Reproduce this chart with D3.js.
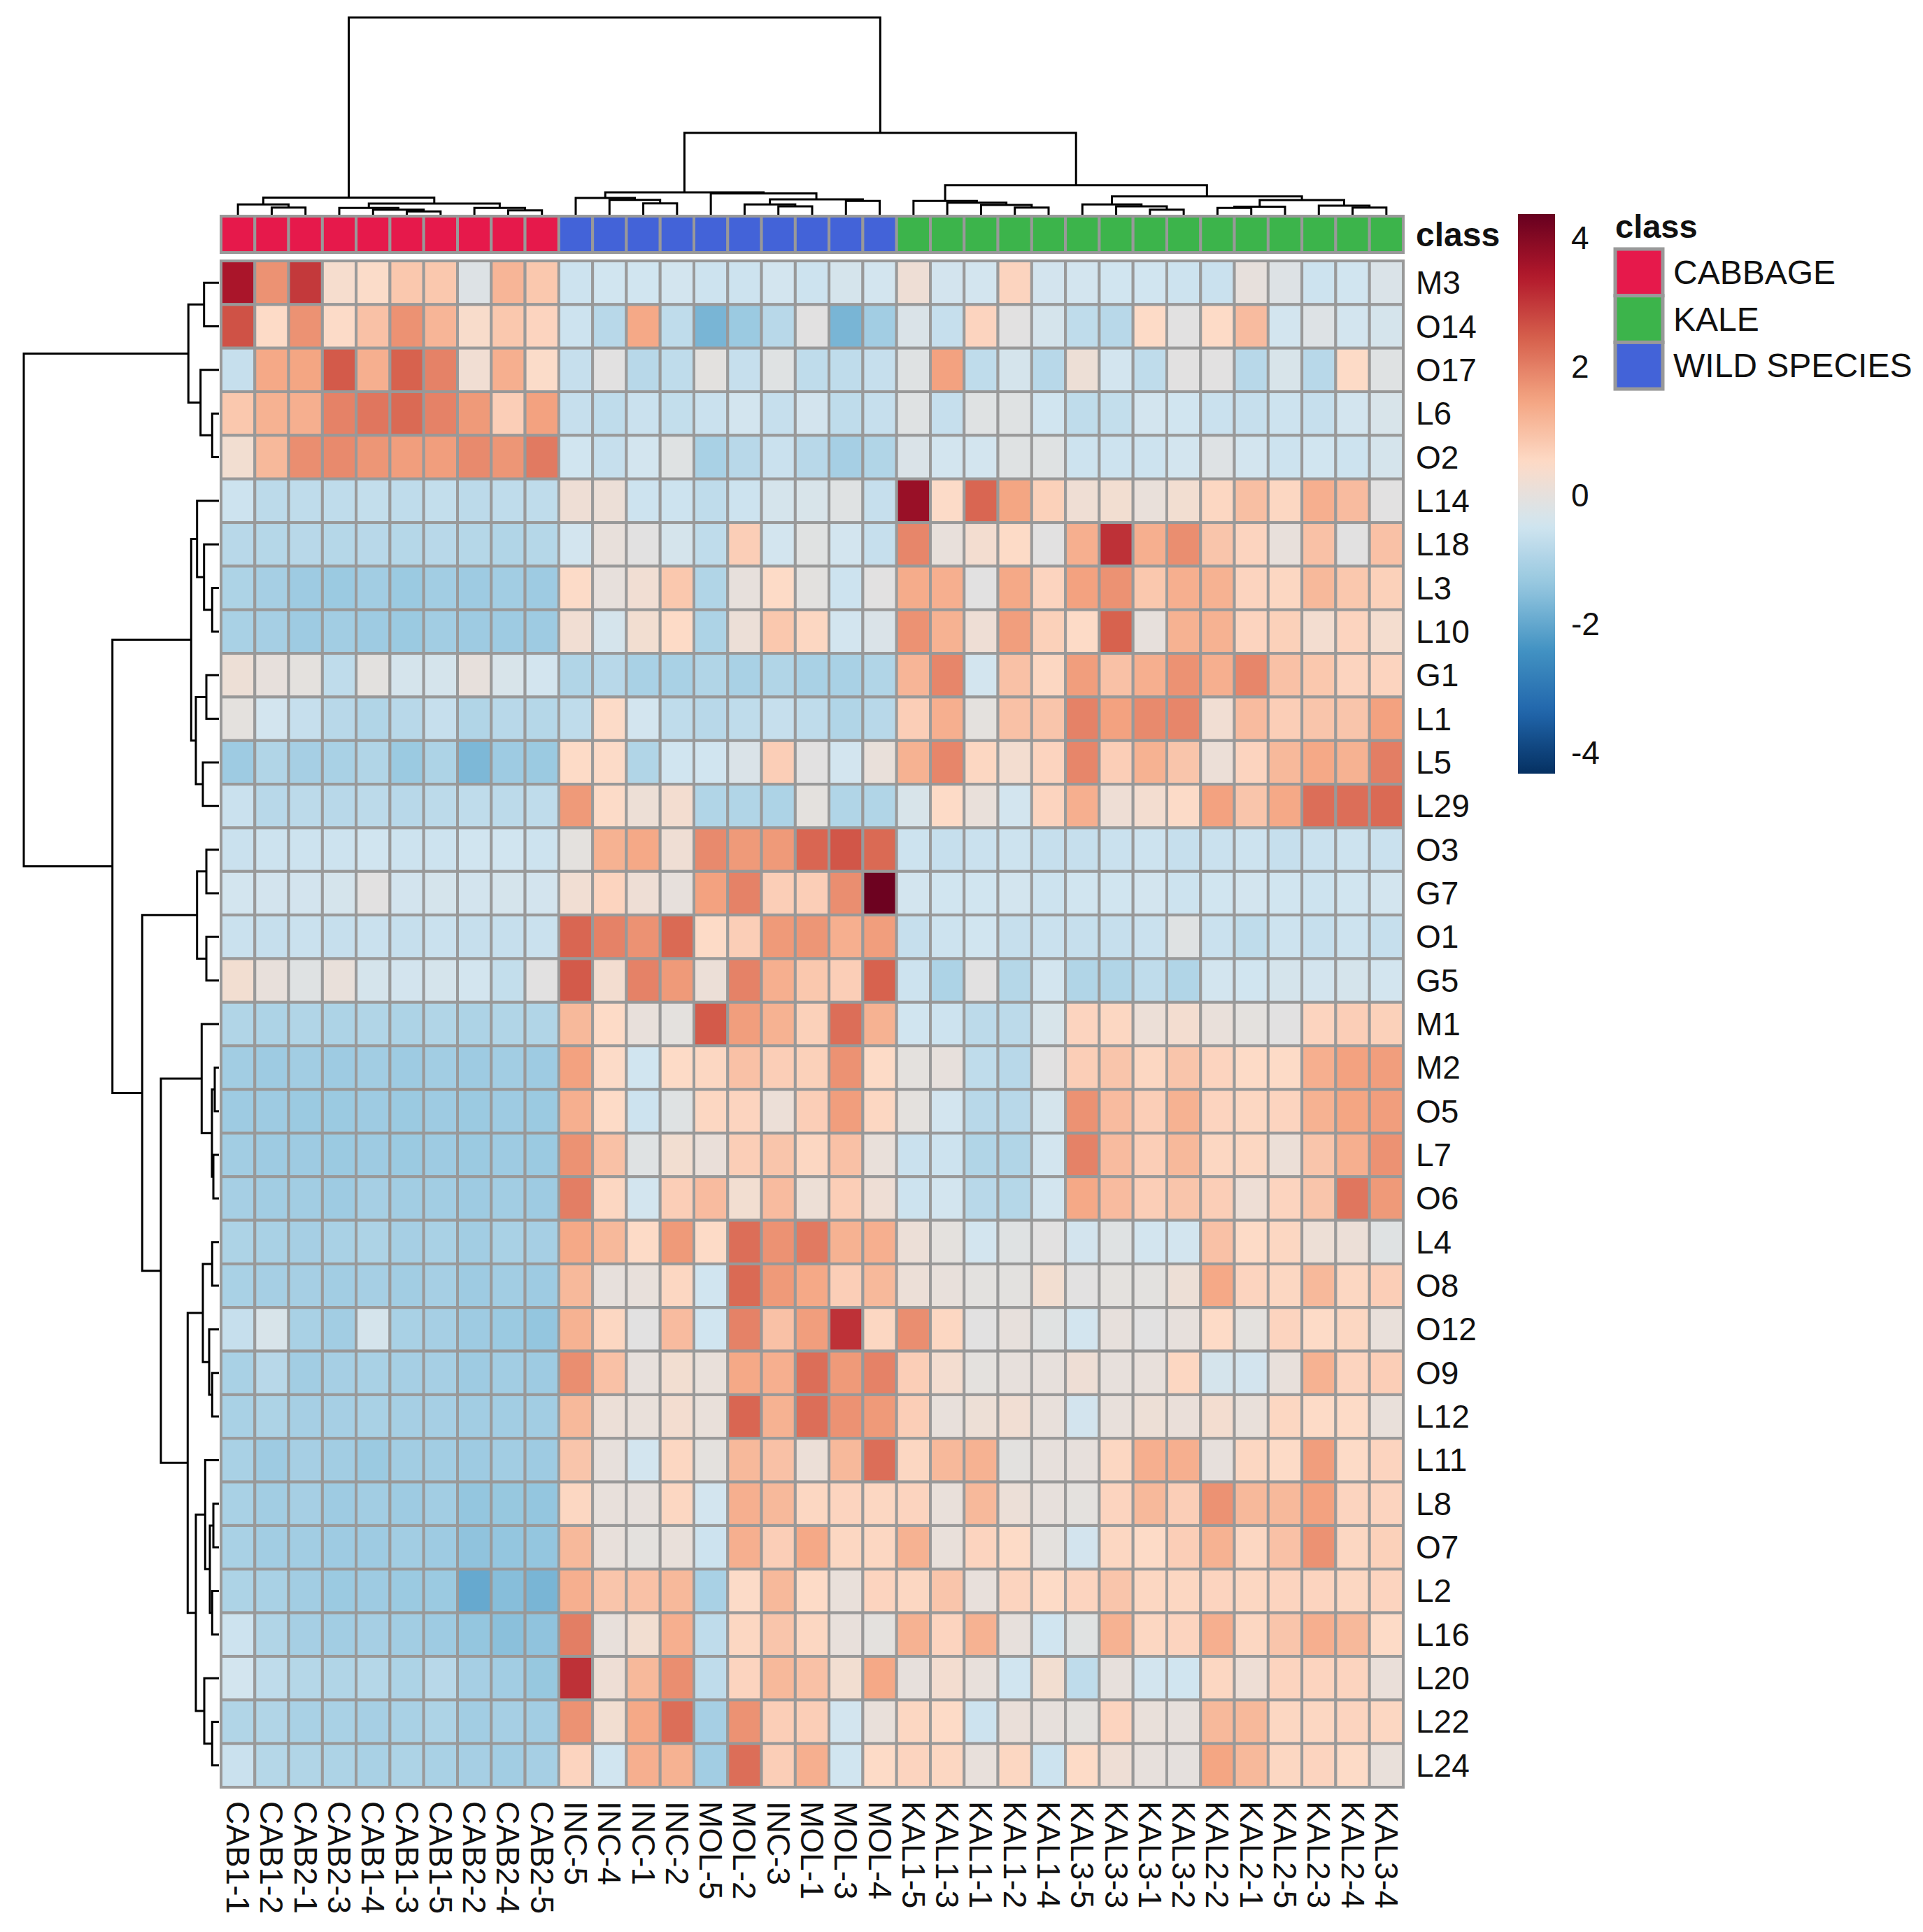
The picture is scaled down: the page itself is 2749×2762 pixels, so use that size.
<!DOCTYPE html>
<html lang="en">
<head>
<meta charset="utf-8">
<title>Heatmap - class</title>
<script src="https://cdnjs.cloudflare.com/ajax/libs/d3/7.8.5/d3.min.js"></script>
<style>
  html, body { margin: 0; padding: 0; background: #fff; }
  svg text { font-family: "Liberation Sans", Arial, sans-serif; fill: #111; }
</style>
</head>
<body>
<div id="chart"></div>
<script>
////////////////////////////////////////////////////////////////////////////////
// Data
////////////////////////////////////////////////////////////////////////////////

const rowNames = ["M3","O14","O17","L6","O2","L14","L18","L3","L10","G1","L1","L5","L29",
  "O3","G7","O1","G5","M1","M2","O5","L7","O6","L4","O8","O12","O9","L12","L11","L8",
  "O7","L2","L16","L20","L22","L24"];

const colNames = ["CAB1-1","CAB1-2","CAB2-1","CAB2-3","CAB1-4","CAB1-3","CAB1-5","CAB2-2","CAB2-4","CAB2-5",
  "INC-5","INC-4","INC-1","INC-2","MOL-5","MOL-2","INC-3","MOL-1","MOL-3","MOL-4",
  "KAL1-5","KAL1-3","KAL1-1","KAL1-2","KAL1-4","KAL3-5","KAL3-3","KAL3-1","KAL3-2",
  "KAL2-2","KAL2-1","KAL2-5","KAL2-3","KAL2-4","KAL3-4"];

// class of each column: 0 cabbage, 1 kale, 2 wild species
const colClass = [0,0,0,0,0,0,0,0,0,0, 2,2,2,2,2,2,2,2,2,2, 1,1,1,1,1,1,1,1,1,1,1,1,1,1,1];
const classNames = ["CABBAGE","KALE","WILD SPECIES"];
const classColors = ["#e6194b","#3cb44b","#4363d8"];

// scaled values, one array per row (same order as rowNames / colNames)
const values = [
  [3.51,1.74,2.96,0.34,0.45,0.85,0.85,-0.21,1.18,0.85, -0.52,-0.46,-0.46,-0.43,-0.52,-0.52,-0.43,-0.52,-0.38,-0.43, 0.17,-0.41,-0.43,0.62,-0.41,-0.43,-0.46,-0.46,-0.52,-0.57,0.01,-0.21,-0.52,-0.46,-0.27],
  [2.63,0.51,1.74,0.48,0.96,1.74,1.18,0.40,0.85,0.62, -0.52,-0.85,1.40,-0.74,-1.74,-1.29,-0.85,-0.10,-1.74,-1.18, -0.27,-0.63,0.62,-0.10,-0.38,-0.74,-0.85,0.51,-0.10,0.51,1.07,-0.43,-0.21,-0.43,-0.38],
  [-0.63,1.40,1.46,2.52,1.29,2.41,1.96,0.23,1.29,0.45, -0.63,-0.10,-0.85,-0.74,-0.07,-0.63,-0.16,-0.74,-0.74,-0.63, -0.16,1.51,-0.74,-0.38,-0.85,0.15,-0.43,-0.74,-0.10,-0.10,-0.85,-0.32,-0.85,0.51,-0.16],
  [0.85,1.24,1.29,1.96,2.13,2.30,1.96,1.63,0.73,1.51, -0.63,-0.74,-0.57,-0.68,-0.57,-0.43,-0.63,-0.41,-0.74,-0.63, -0.16,-0.63,-0.16,-0.16,-0.46,-0.74,-0.68,-0.43,-0.46,-0.57,-0.63,-0.52,-0.63,-0.43,-0.32],
  [0.26,1.12,1.79,1.85,1.68,1.57,1.57,1.85,1.68,2.07, -0.46,-0.63,-0.43,-0.16,-1.07,-0.85,-0.57,-0.85,-1.13,-0.96, -0.27,-0.43,-0.43,-0.16,-0.16,-0.52,-0.52,-0.52,-0.43,-0.18,-0.43,-0.52,-0.46,-0.52,-0.38],
  [-0.52,-0.79,-0.74,-0.74,-0.68,-0.74,-0.68,-0.79,-0.74,-0.74, 0.17,0.12,-0.52,-0.52,-0.74,-0.52,-0.38,-0.32,-0.16,-0.63, 3.73,0.48,2.35,1.46,0.68,0.20,0.26,0.06,0.26,0.57,1.01,0.57,1.29,1.07,-0.10],
  [-0.85,-0.90,-0.85,-0.90,-0.85,-0.90,-0.85,-0.90,-0.96,-0.90, -0.43,0.04,-0.10,-0.38,-0.74,0.73,-0.43,-0.13,-0.43,-0.63, 1.90,0.04,0.28,0.51,-0.10,1.29,3.07,1.29,1.79,0.90,0.62,0.04,0.96,-0.10,0.96],
  [-1.02,-1.13,-1.24,-1.29,-1.18,-1.29,-1.18,-1.24,-1.18,-1.24, 0.48,0.01,0.23,0.85,-0.96,0.01,0.51,-0.07,-0.52,-0.10, 1.35,1.29,-0.10,1.40,0.62,1.51,1.74,0.85,1.29,1.24,0.62,0.57,1.12,0.85,0.68],
  [-1.07,-1.13,-1.24,-1.18,-1.24,-1.29,-1.18,-1.24,-1.24,-1.24, 0.23,-0.38,0.26,0.51,-1.02,0.12,0.85,0.57,-0.43,-0.27, 1.74,1.24,0.17,1.57,0.68,0.51,2.41,0.01,1.24,1.24,0.62,0.68,0.28,0.62,0.31],
  [0.15,0.01,-0.05,-0.74,-0.07,-0.38,-0.38,0.01,-0.32,-0.43, -0.96,-0.85,-1.07,-1.07,-0.96,-1.07,-0.96,-1.07,-1.07,-0.96, 1.18,1.90,-0.43,0.96,0.57,1.57,0.96,1.29,1.74,1.29,1.90,0.96,0.85,0.62,0.62],
  [-0.05,-0.43,-0.63,-0.85,-0.96,-0.85,-0.63,-0.96,-0.85,-0.90, -0.74,0.48,-0.43,-0.74,-0.85,-0.74,-0.63,-0.74,-0.96,-0.85, 0.73,1.29,-0.05,0.96,0.90,1.96,1.51,1.85,1.90,0.23,1.07,0.73,0.90,0.90,1.51],
  [-1.24,-0.96,-1.13,-1.07,-0.96,-1.29,-1.02,-1.69,-1.24,-1.29, 0.51,0.48,-0.96,-0.46,-0.46,-0.27,0.73,-0.10,-0.43,0.06, 1.24,1.90,0.57,0.28,0.62,1.90,0.73,1.24,0.90,0.12,0.62,1.12,1.40,1.24,2.02],
  [-0.57,-0.85,-0.79,-0.85,-0.79,-0.85,-0.79,-0.74,-0.79,-0.74, 1.63,0.48,0.15,0.28,-0.96,-0.96,-1.02,-0.05,-0.96,-0.96, -0.32,0.51,0.06,-0.43,0.62,1.29,0.17,0.28,0.48,1.51,0.90,1.40,2.24,2.24,2.30],
  [-0.57,-0.52,-0.52,-0.52,-0.46,-0.52,-0.52,-0.46,-0.46,-0.52, -0.05,1.24,1.40,0.20,1.85,1.63,1.63,2.35,2.57,2.30, -0.52,-0.63,-0.57,-0.52,-0.63,-0.63,-0.57,-0.52,-0.63,-0.57,-0.52,-0.63,-0.57,-0.52,-0.57],
  [-0.43,-0.41,-0.41,-0.38,-0.10,-0.41,-0.38,-0.41,-0.38,-0.41, 0.23,0.62,0.17,0.01,1.51,1.96,0.73,0.73,1.79,4.29, -0.43,-0.46,-0.46,-0.43,-0.52,-0.46,-0.46,-0.43,-0.52,-0.46,-0.43,-0.46,-0.52,-0.46,-0.43],
  [-0.57,-0.63,-0.57,-0.63,-0.57,-0.63,-0.57,-0.63,-0.63,-0.57, 2.35,1.96,1.74,2.30,0.51,0.73,1.63,1.68,1.29,1.57, -0.63,-0.52,-0.46,-0.63,-0.57,-0.63,-0.63,-0.57,-0.16,-0.57,-0.74,-0.52,-0.63,-0.52,-0.63],
  [0.26,0.04,-0.16,0.06,-0.38,-0.41,-0.38,-0.43,-0.68,-0.10, 2.52,0.28,1.96,1.63,0.12,1.96,1.29,0.85,0.73,2.41, -0.52,-1.02,-0.10,-0.90,-0.43,-0.96,-0.96,-0.74,-0.96,-0.43,-0.46,-0.38,-0.41,-0.38,-0.43],
  [-0.96,-1.02,-0.96,-1.02,-0.96,-1.02,-0.96,-1.02,-0.96,-0.96, 1.12,0.51,0.04,-0.05,2.52,1.57,1.24,0.68,2.24,1.24, -0.46,-0.52,-0.79,-0.79,-0.32,0.62,0.57,0.12,0.28,0.06,-0.05,-0.10,0.62,0.73,0.68],
  [-1.18,-1.24,-1.18,-1.24,-1.18,-1.24,-1.18,-1.24,-1.18,-1.24, 1.51,0.48,-0.46,0.51,0.57,0.96,0.73,0.68,1.74,0.51, -0.05,0.01,-0.74,-0.85,-0.10,0.73,0.90,0.57,0.90,0.62,0.51,0.51,1.29,1.51,1.57],
  [-1.24,-1.24,-1.29,-1.29,-1.24,-1.29,-1.24,-1.29,-1.24,-1.29, 1.29,0.51,-0.52,-0.16,0.57,0.62,0.12,0.73,1.57,0.57, -0.05,-0.43,-0.85,-0.85,-0.38,1.74,1.07,0.73,1.24,0.62,0.57,0.62,1.24,1.46,1.57],
  [-1.18,-1.24,-1.24,-1.29,-1.24,-1.29,-1.24,-1.29,-1.24,-1.29, 1.74,0.96,-0.16,0.26,0.09,0.73,0.90,0.57,0.96,0.06, -0.57,-0.52,-0.96,-0.96,-0.43,1.96,1.07,0.73,1.12,0.57,0.57,0.12,0.90,1.29,1.74],
  [-1.13,-1.18,-1.18,-1.24,-1.13,-1.18,-1.18,-1.24,-1.18,-1.24, 2.02,0.57,-0.43,0.73,1.07,0.26,1.07,0.15,0.73,0.17, -0.52,-0.43,-0.85,-0.90,-0.43,1.40,1.07,0.73,0.90,0.73,0.17,0.62,0.90,2.13,1.63],
  [-1.02,-1.07,-1.13,-1.07,-1.02,-1.13,-1.07,-1.18,-1.07,-1.13, 1.40,1.12,0.51,1.63,0.51,2.24,1.74,2.07,1.24,1.29, 0.12,-0.05,-0.43,-0.16,-0.10,-0.41,-0.16,-0.43,-0.43,0.96,0.51,0.57,0.15,0.12,-0.16],
  [-1.07,-1.13,-1.13,-1.18,-1.13,-1.18,-1.13,-1.24,-1.18,-1.24, 1.12,0.01,0.04,0.57,-0.46,2.30,1.63,1.40,0.73,1.12, 0.12,0.04,-0.07,-0.07,0.26,-0.10,-0.05,-0.07,0.15,1.40,0.62,0.57,1.12,0.57,0.73],
  [-0.63,-0.32,-1.07,-1.18,-0.38,-1.07,-1.13,-1.24,-1.29,-1.40, 1.24,0.57,-0.10,1.07,-0.46,1.96,0.96,1.57,3.07,0.57, 1.79,0.57,-0.10,0.01,-0.13,-0.43,0.01,-0.10,0.01,0.51,-0.05,0.62,0.51,0.57,0.06],
  [-1.07,-0.85,-1.18,-1.13,-1.07,-1.13,-1.13,-1.24,-1.18,-1.24, 1.79,0.96,0.01,0.26,0.06,1.40,1.29,2.24,1.63,1.96, 0.73,0.28,-0.05,0.01,0.01,0.17,0.01,0.04,0.57,-0.38,-0.41,0.04,1.24,0.62,0.73],
  [-1.07,-1.02,-1.13,-1.13,-1.07,-1.13,-1.13,-1.18,-1.18,-1.18, 1.12,0.12,0.06,0.28,0.06,2.35,1.24,2.24,1.74,1.63, 0.73,0.04,0.15,0.23,0.04,-0.41,0.04,0.15,0.09,0.28,0.06,0.57,0.51,0.51,0.06],
  [-1.07,-1.24,-1.13,-1.18,-1.29,-1.18,-1.18,-1.24,-1.18,-1.24, 0.90,0.01,-0.43,0.57,-0.05,1.12,0.96,0.12,1.12,2.24, 0.57,1.12,1.24,-0.07,0.01,0.01,0.57,1.29,1.29,0.01,0.57,0.51,1.57,0.51,0.62],
  [-1.07,-1.18,-1.13,-1.24,-1.18,-1.24,-1.18,-1.40,-1.35,-1.40, 0.57,0.04,0.01,0.57,-0.43,1.29,1.12,0.57,0.62,0.57, 0.62,0.06,1.12,0.12,0.01,-0.05,0.62,1.12,0.73,1.74,1.12,1.12,1.51,0.62,0.62],
  [-1.07,-1.18,-1.18,-1.24,-1.24,-1.18,-1.24,-1.46,-1.40,-1.40, 1.12,0.04,-0.05,0.06,-0.52,1.29,0.73,1.40,0.57,0.57, 1.24,0.06,0.62,0.51,-0.05,-0.41,0.57,0.51,0.73,1.24,0.57,0.96,1.74,0.57,0.68],
  [-1.02,-1.07,-1.18,-1.29,-1.24,-1.29,-1.29,-1.97,-1.57,-1.74, 1.29,0.90,0.96,1.12,-1.07,0.48,1.12,0.51,0.06,0.62, 0.57,0.90,0.04,0.62,0.51,0.62,0.90,0.57,0.57,0.62,0.57,0.62,0.62,0.57,0.62],
  [-0.52,-0.96,-1.13,-1.18,-1.13,-1.18,-1.24,-1.40,-1.52,-1.46, 2.02,0.04,0.26,1.29,-0.74,0.57,0.90,0.57,0.04,-0.05, 1.24,0.62,1.24,0.01,-0.46,-0.13,1.24,0.57,0.62,1.29,0.57,0.90,1.29,1.12,0.51],
  [-0.43,-0.74,-0.90,-0.96,-0.90,-1.02,-0.85,-1.13,-1.18,-1.35, 3.07,0.17,1.12,1.79,-0.74,0.62,1.12,0.96,0.26,1.40, 0.01,0.28,0.04,-0.46,0.26,-0.74,0.01,-0.43,-0.46,0.57,0.17,0.62,0.62,0.62,0.09],
  [-0.96,-0.96,-1.07,-1.07,-1.13,-1.07,-1.02,-1.18,-1.13,-1.18, 1.74,0.26,1.40,2.24,-1.13,1.74,0.73,0.73,-0.43,0.06, 0.57,0.51,-0.52,0.09,0.01,-0.05,0.62,0.06,0.01,1.12,1.12,0.57,0.57,0.62,0.57],
  [-0.57,-0.90,-0.96,-1.02,-1.07,-1.02,-1.07,-1.13,-1.18,-1.13, 0.62,-0.46,1.29,1.24,-1.18,2.24,0.73,1.29,-0.46,0.51, 0.62,0.57,0.04,0.57,-0.52,0.51,0.17,0.01,-0.02,1.46,1.12,0.57,0.62,0.51,0.06]
];

// dendrograms: [height, left, right], a plain number is a leaf index
const colTree = [283,
  [24.7, [14.7, 0, [10.3, 1, 2]],
         [16, [9.7, 3, [7.3, 4, [4.7, 5, 6]]], [9.7, 7, [6.3, 8, 9]]]],
  [117.3,
    [32, [24, 10, [21.3, 11, [16.3, 12, 13]]],
         [30.7, 14, [22, [14.7, 15, [12, 16, 17]], [19.7, 18, 19]]]],
    [42.3, [19.7, 20, [17.3, 21, [14, 22, [10.3, 23, 24]]]],
           [26.3, [14.7, 25, [12, 26, [7.3, 27, 28]]],
                  [21, [11.5, [9.7, 29, 30], 31], [13, 32, [10.3, 33, 34]]]]]]];

const rowTree = [279,
  [43.7, [21.3, 0, 1], [26.3, 2, [9.7, 3, 4]]],
  [152.3,
    [39.7, [31.3, 5, [21.3, 6, [9.7, 7, 8]]], [33, [18, 9, 10], [23, 11, 12]]],
    [109.7,
      [31.3, [18, 13, 14], [18, 15, 16]],
      [83,
        [24.7, 17, [10, [6, 18, 19], [8, 20, 21]]],
        [44.7,
          [23, [9.7, 22, 23], [14, 24, [9.7, 25, 26]]],
          [33, [19.7, 27, [13, [8, 28, 29], [9.7, 30, 31]]], [21, 32, [9.7, 33, 34]]]]]]]];

const colorRange = [-4.33, 4.37];
const colorStops = ["#053061","#2166ac","#4393c3","#92c5de","#d1e5f0",
                    "#fddbc7","#f4a582","#d6604d","#b2182b","#67001f"];
const legendTicks = [4, 2, 0, -2, -4];

////////////////////////////////////////////////////////////////////////////////
// Layout
////////////////////////////////////////////////////////////////////////////////

const W = 2749, H = 2762;
const hm = {left: 316, right: 2006, top: 373, bottom: 2555};
const border = "#999999";
const labelSize = "46px";

const x = d3.scaleBand().domain(d3.range(colNames.length)).range([hm.left, hm.right]);
const y = d3.scaleBand().domain(d3.range(rowNames.length)).range([hm.top, hm.bottom]);

const color = d3.scaleLinear()
  .domain(colorStops.map((c, i) => colorRange[0] + i * (colorRange[1] - colorRange[0]) / (colorStops.length - 1)))
  .range(colorStops)
  .interpolate(d3.interpolateRgb);

const svg = d3.select("#chart").append("svg")
  .attr("width", W)
  .attr("height", H)
  .attr("viewBox", "0 0 " + W + " " + H);

svg.append("rect").attr("width", W).attr("height", H).attr("fill", "#fff");

// heatmap cells
const cells = [];
values.forEach((row, r) => row.forEach((v, c) => cells.push({r: r, c: c, v: v})));

svg.append("g")
  .selectAll("rect")
  .data(cells)
  .join("rect")
    .attr("x", d => x(d.c))
    .attr("y", d => y(d.r))
    .attr("width", x.bandwidth())
    .attr("height", y.bandwidth())
    .attr("fill", d => color(d.v))
    .attr("stroke", border)
    .attr("stroke-width", 4);

// class annotation bar
const classTop = 309, classH = 52;
svg.append("g")
  .selectAll("rect")
  .data(colClass)
  .join("rect")
    .attr("x", (d, i) => x(i))
    .attr("y", classTop)
    .attr("width", x.bandwidth())
    .attr("height", classH)
    .attr("fill", d => classColors[d])
    .attr("stroke", border)
    .attr("stroke-width", 4);

svg.append("text")
  .attr("x", hm.right + 18)
  .attr("y", classTop + classH / 2)
  .attr("dominant-baseline", "central")
  .style("font-size", "48px")
  .style("font-weight", "bold")
  .text("class");

// row labels
svg.append("g")
  .selectAll("text")
  .data(rowNames)
  .join("text")
    .attr("x", hm.right + 18)
    .attr("y", (d, i) => y(i) + y.bandwidth() / 2)
    .attr("dominant-baseline", "central")
    .style("font-size", labelSize)
    .text(d => d);

// column labels, vertical
svg.append("g")
  .selectAll("text")
  .data(colNames)
  .join("text")
    .attr("transform", (d, i) => "translate(" + (x(i) + x.bandwidth() / 2) + "," + (hm.bottom + 20) + ") rotate(90)")
    .attr("dominant-baseline", "central")
    .style("font-size", labelSize)
    .text(d => d);

////////////////////////////////////////////////////////////////////////////////
// Dendrograms
////////////////////////////////////////////////////////////////////////////////

function layoutTree(tree, band) {
  const root = d3.hierarchy(tree, d => Array.isArray(d) ? d.slice(1) : null);
  root.eachAfter(n => {
    if (!n.children) { n.pos = band(n.data) + band.bandwidth() / 2; n.h = 0; }
    else { n.pos = d3.mean(n.children, c => c.pos); n.h = n.data[0]; }
  });
  return root.descendants().filter(n => n.children);
}

// top (columns)
const topH = d3.scaleLinear().domain([0, 283]).range([307, 25]);
svg.append("g")
  .selectAll("path")
  .data(layoutTree(colTree, x))
  .join("path")
    .attr("d", n => {
      const a = n.children[0], b = n.children[1];
      return "M" + a.pos + "," + topH(a.h) + "V" + topH(n.h) + "H" + b.pos + "V" + topH(b.h);
    })
    .attr("fill", "none")
    .attr("stroke", "#000")
    .attr("stroke-width", 3);

// left (rows)
const leftH = d3.scaleLinear().domain([0, 279]).range([313, 34]);
svg.append("g")
  .selectAll("path")
  .data(layoutTree(rowTree, y))
  .join("path")
    .attr("d", n => {
      const a = n.children[0], b = n.children[1];
      return "M" + leftH(a.h) + "," + a.pos + "H" + leftH(n.h) + "V" + b.pos + "H" + leftH(b.h);
    })
    .attr("fill", "none")
    .attr("stroke", "#000")
    .attr("stroke-width", 3);

////////////////////////////////////////////////////////////////////////////////
// Legends
////////////////////////////////////////////////////////////////////////////////

const barX = 2170, barW = 53;
const legendY = d3.scaleLinear().domain(colorRange).range([1106, 306]);

const grad = svg.append("defs").append("linearGradient")
  .attr("id", "ramp")
  .attr("x1", 0).attr("y1", 1).attr("x2", 0).attr("y2", 0);
grad.selectAll("stop")
  .data(d3.range(0, 1.0001, 0.02))
  .join("stop")
    .attr("offset", t => t)
    .attr("stop-color", t => color(colorRange[0] + t * (colorRange[1] - colorRange[0])));

svg.append("rect")
  .attr("x", barX)
  .attr("y", legendY(colorRange[1]))
  .attr("width", barW)
  .attr("height", legendY(colorRange[0]) - legendY(colorRange[1]))
  .attr("fill", "url(#ramp)");

svg.append("g")
  .selectAll("text")
  .data(legendTicks)
  .join("text")
    .attr("x", barX + barW + 23)
    .attr("y", d => legendY(d))
    .attr("dominant-baseline", "central")
    .style("font-size", labelSize)
    .text(d => d);

// class legend
const boxX = 2309, boxY = 356, boxW = 68, boxH = 66.7;
svg.append("text")
  .attr("x", boxX)
  .attr("y", 340)
  .style("font-size", "47px")
  .style("font-weight", "bold")
  .text("class");

const order = [0, 1, 2];
svg.append("g")
  .selectAll("rect")
  .data(order)
  .join("rect")
    .attr("x", boxX)
    .attr("y", (d, i) => boxY + i * boxH)
    .attr("width", boxW)
    .attr("height", boxH)
    .attr("fill", d => classColors[d])
    .attr("stroke", border)
    .attr("stroke-width", 5);

svg.append("g")
  .selectAll("text")
  .data(order)
  .join("text")
    .attr("x", boxX + boxW + 15)
    .attr("y", (d, i) => boxY + i * boxH + boxH / 2)
    .attr("dominant-baseline", "central")
    .style("font-size", "48px")
    .text(d => classNames[d]);
</script>
</body>
</html>
